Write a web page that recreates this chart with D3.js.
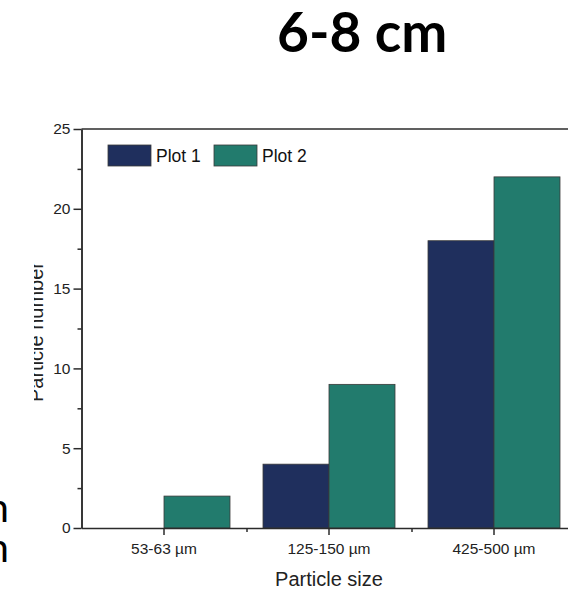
<!DOCTYPE html>
<html lang="en">
<meta charset="utf-8"/>
<head>
<style>
  body { margin: 0; background: #FFFFFF; }
  * { font-family: "Liberation Sans", Arial, sans-serif; }
  .axis path, .axis line { stroke: #2b2b2b; stroke-width: 1.5; }
  .axis text { fill: #222; font-size: 15.5px; font-family: "Liberation Sans", Arial, sans-serif; }
  #title { font-family: "Lato", sans-serif; font-weight: bold; font-size: 55px; fill: #000; }
  .frag { font-family: "Lato", sans-serif; font-size: 40px; fill: #000; }
</style>
</head>
<body>
<svg id="container" width="568" height="591"></svg>

<script src="https://d3js.org/d3.v7.min.js"></script>
<script>
  // chart data
  let categories = ["53-63 µm", "125-150 µm", "425-500 µm"]
  let seriesNames = ["Plot 1", "Plot 2"]
  let plot1 = [0, 4, 18]
  let plot2 = [2, 9, 22]
  let yTicks = [0, 5, 10, 15, 20, 25]
  let colors = ["#1f2f5d", "#227b6d"]

  let svg = d3.select("svg")
  let plotLeft = 81.5, plotRight = 576.5, plotTop = 129, plotBottom = 528

  let values = categories.map((c, i) => ({cat: c, vals: [plot1[i], plot2[i]]}))

  let xScale = d3.scaleBand()
      .domain(categories)
      .range([plotLeft, plotRight])
      .paddingInner(0.2)
      .paddingOuter(0.1)

  let xInner = d3.scaleBand()
      .domain(seriesNames)
      .range([0, xScale.bandwidth()])

  let yScale = d3.scaleLinear()
      .domain([0, 25])
      .range([plotBottom, plotTop])

  // title and cut-off slide text
  svg.append("text").attr("id", "title").attr("x", 277).attr("y", 52).text("6-8 cm")
  svg.append("text").attr("class", "frag").attr("x", -24).attr("y", 522).text("m")
  svg.append("text").attr("class", "frag").attr("x", -24).attr("y", 562).text("m")

  // bars
  svg.selectAll(".group")
      .data(values)
      .enter()
      .append("g")
      .attr("class", "group")
      .attr("transform", d => "translate(" + xScale(d.cat) + ",0)")
      .selectAll("rect")
      .data(d => d.vals.map((v, i) => ({name: seriesNames[i], v: v, i: i})).filter(d => d.v > 0))
      .enter()
      .append("rect")
      .attr("x", d => xInner(d.name))
      .attr("y", d => yScale(d.v))
      .attr("width", xInner.bandwidth())
      .attr("height", d => yScale(0) - yScale(d.v))
      .attr("fill", d => colors[d.i])
      .attr("stroke", "#3a3a3a")
      .attr("stroke-width", 0.8)

  // top frame line
  svg.append("line")
      .attr("x1", plotLeft).attr("x2", plotRight)
      .attr("y1", plotTop).attr("y2", plotTop)
      .attr("stroke", "#2b2b2b").attr("stroke-width", 1.5)

  // y axis
  svg.append("g")
      .attr("class", "axis")
      .attr("transform", "translate(" + plotLeft + ",0)")
      .call(d3.axisLeft(yScale).tickValues(yTicks).tickSize(8).tickSizeOuter(0).tickPadding(3))
  svg.append("g")
      .attr("class", "axis")
      .attr("transform", "translate(" + plotLeft + ",0)")
      .call(d3.axisLeft(yScale).tickValues([2.5, 7.5, 12.5, 17.5, 22.5]).tickSize(4).tickSizeOuter(0).tickFormat(""))

  // x axis
  svg.append("g")
      .attr("class", "axis")
      .attr("transform", "translate(0," + plotBottom + ")")
      .call(d3.axisBottom(xScale).tickSize(7).tickSizeOuter(0).tickPadding(8))
  let xBound = d3.scaleLinear().domain([0, 3]).range([plotLeft, plotRight])
  svg.append("g")
      .attr("class", "axis")
      .attr("transform", "translate(0," + plotBottom + ")")
      .call(d3.axisBottom(xBound).tickValues([1, 2, 3]).tickSize(4).tickSizeOuter(0).tickFormat(""))
      .select(".domain").remove()

  // axis titles
  svg.append("text")
      .attr("x", 329).attr("y", 586)
      .attr("text-anchor", "middle")
      .style("font-size", "20px").style("fill", "#222")
      .text("Particle size")

  svg.append("defs").append("clipPath").attr("id", "ylab")
      .append("rect").attr("x", 34).attr("y", 200).attr("width", 30).attr("height", 260)
  svg.append("g").attr("clip-path", "url(#ylab)")
      .append("text")
      .attr("transform", "translate(43,332) rotate(-90)")
      .attr("text-anchor", "middle")
      .style("font-size", "20px").style("fill", "#222")
      .text("Particle number")

  // legend
  let legend = svg.append("g").selectAll("g")
      .data(seriesNames)
      .enter()
      .append("g")
      .attr("transform", (d, i) => "translate(" + (108 + i * 106) + ",145)")
  legend.append("rect")
      .attr("width", 43).attr("height", 21)
      .attr("fill", (d, i) => colors[i])
      .attr("stroke", "#3a3a3a").attr("stroke-width", 0.8)
  legend.append("text")
      .attr("x", 48).attr("y", 17)
      .style("font-size", "17.5px").style("fill", "#111")
      .text(d => d)
</script>
</body>
</html>
